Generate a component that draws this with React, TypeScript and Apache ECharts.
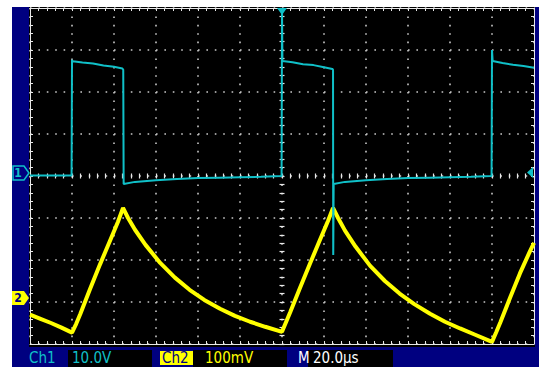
import React, { useEffect, useRef } from "react";
import * as echarts from "echarts";

// Ch1: time (µs, 0 = trigger at screen centre) and volts (10 V/div)
const ch1Time = [-120, -110, -100.2, -100, -99.6, -95, -90, -85, -80, -76, -75.6, -75.4, -70, -60, -50, -40, -30, -20, -10, -0.2, 0, 0.2, 5, 10, 15, 20, 24, 24.3, 24.4, 24.6, 30, 40, 50, 60, 70, 80, 90, 99.8, 100, 100.3, 105, 110, 115, 120];
const ch1Volt = [0.1, 0.1, 0.1, 27.6, 27.3, 27.0, 26.8, 26.3, 26.0, 25.6, 25.3, -1.9, -1.4, -1.0, -0.7, -0.5, -0.4, -0.3, -0.2, 0.0, 40, 27.4, 27.1, 26.6, 26.4, 25.9, 25.5, 25.3, -18.8, -1.9, -1.4, -1.0, -0.7, -0.5, -0.4, -0.3, -0.2, 0.0, 30.0, 27.4, 26.9, 26.5, 26.2, 25.8];

// Ch2: time (µs) and millivolts (100 mV/div)
const ch2Time = [-120, -115, -110, -105, -100, -98, -96, -91.4, -86.7, -81.9, -78.1, -75.7, -73.3, -70, -65, -58, -51, -44, -37, -29.5, -22.4, -15.2, -8, 0, 2, 4, 8.6, 13.3, 18.1, 21.9, 24.3, 26.7, 30, 35, 42, 49, 56, 63, 70.5, 77.6, 84.8, 92, 100, 102, 104, 108.6, 113.3, 118, 120];
const ch2mV = [-40, -50, -60, -71, -83, -62, -38, 21, 79, 136, 181, 214, 190, 162, 126, 83, 48, 19, -5, -26, -43, -57, -69, -81, -57, -33, 24, 81, 138, 183, 214, 190, 160, 122, 76, 40, 10, -15, -38, -57, -73, -88, -105, -82, -58, 0, 58, 110, 131];

// Screen settings
const timeRange = [-120, 120];
const timePerDiv = 20;
const ch1Range = [-40, 40];
const ch1PerDiv = 10;
const ch2Range = [-110, 690];

// Status bar texts
const ch1Label = "Ch1";
const ch1Scale = "10.0V";
const ch2Label = "Ch2";
const ch2Scale = "100mV";
const timeLabel = "M";
const timeScale = "20.0µs";

const CYAN = "#10c0c8";
const YELLOW = "#ffff00";
const NAVY = "#000080";
const FRAME = "#e8e8e8";
const DOT = "#c8c8c8";
const FONT = "'DejaVu Sans Condensed', 'Liberation Sans Narrow', 'DejaVu Sans', sans-serif";

function frameAxis(extra: any) {
  return {
    type: "value",
    axisLine: { show: true, onZero: false, lineStyle: { color: FRAME, width: 1 } },
    axisTick: { show: true, inside: true, length: 3, lineStyle: { color: FRAME } },
    minorTick: { show: true, splitNumber: 5, length: 3, lineStyle: { color: FRAME } },
    axisLabel: { show: false },
    splitLine: { show: false },
    ...extra,
  };
}

export default function App() {
  const ref = useRef<HTMLDivElement>(null);
  useEffect(() => {
    document.body.style.margin = "0";
    const chart = echarts.init(ref.current!, null, { renderer: "svg" });
    const ch1Data = ch1Time.map((t, i) => [t, ch1Volt[i]]);
    const ch2Data = ch2Time.map((t, i) => [t, ch2mV[i]]);
    const dotted = { show: true, lineStyle: { color: DOT, width: 1.6, type: [1.6, 6.8] } };
    const centerTick = { show: true, inside: true, length: 5, lineStyle: { color: FRAME, width: 1.2 } };
    const centerMinor = { show: true, splitNumber: 5, length: 5, lineStyle: { color: FRAME, width: 1.2 } };
    const txt = (x: number, text: string, fill: string) => ({
      type: "text",
      x,
      y: 358,
      z: 20,
      style: { text, fill, font: `15px ${FONT}`, verticalAlign: "middle" },
    });
    const option: any = {
      animation: false,
      backgroundColor: "#ffffff",
      grid: { left: 30, top: 8, width: 504, height: 336, show: false },
      xAxis: [
        frameAxis({ min: timeRange[0], max: timeRange[1], interval: timePerDiv, position: "bottom", splitLine: dotted }),
        frameAxis({ min: timeRange[0], max: timeRange[1], interval: timePerDiv, position: "top" }),
        frameAxis({
          min: timeRange[0], max: timeRange[1], interval: timePerDiv, position: "bottom", offset: -165.5,
          axisLine: { show: false, onZero: false }, axisTick: centerTick, minorTick: centerMinor,
        }),
      ],
      yAxis: [
        frameAxis({ min: ch1Range[0], max: ch1Range[1], interval: ch1PerDiv, position: "left", splitLine: dotted }),
        frameAxis({ min: ch1Range[0], max: ch1Range[1], interval: ch1PerDiv, position: "right" }),
        frameAxis({
          min: ch1Range[0], max: ch1Range[1], interval: ch1PerDiv, position: "left", offset: -249.5,
          axisLine: { show: false, onZero: false }, axisTick: centerTick, minorTick: centerMinor,
        }),
        { type: "value", min: ch2Range[0], max: ch2Range[1], show: false, axisLine: { onZero: false } },
      ],
      series: [
        {
          name: "Ch2", type: "line", xAxisIndex: 0, yAxisIndex: 3, data: ch2Data,
          showSymbol: false, symbol: "none", z: 3,
          lineStyle: { color: YELLOW, width: 4 },
        },
        {
          name: "Ch1", type: "line", xAxisIndex: 0, yAxisIndex: 0, data: ch1Data,
          showSymbol: false, symbol: "none", z: 4,
          lineStyle: { color: CYAN, width: 2 },
        },
      ],
      graphic: [
        { type: "rect", z: -10, silent: true, shape: { x: 12, y: 7, width: 527, height: 360 }, style: { fill: NAVY } },
        { type: "rect", z: -9, silent: true, shape: { x: 29, y: 7, width: 506, height: 340 }, style: { fill: "#000000" } },
        { type: "rect", z: 10, silent: true, shape: { x: 68, y: 350, width: 84, height: 17 }, style: { fill: "#000000" } },
        { type: "rect", z: 10, silent: true, shape: { x: 160, y: 351, width: 33, height: 14 }, style: { fill: YELLOW } },
        { type: "rect", z: 10, silent: true, shape: { x: 193, y: 350, width: 94, height: 17 }, style: { fill: "#000000" } },
        { type: "rect", z: 10, silent: true, shape: { x: 308, y: 350, width: 85, height: 17 }, style: { fill: "#000000" } },
        txt(29, ch1Label, CYAN),
        txt(72, ch1Scale, CYAN),
        txt(162, ch2Label, NAVY),
        txt(205, ch2Scale, YELLOW),
        txt(298, timeLabel, "#ffffff"),
        txt(313, timeScale, "#ffffff"),
        // channel ground markers
        { type: "polygon", z: 20, shape: { points: [[13, 166], [24, 166], [29, 173], [24, 180], [13, 180]] }, style: { fill: NAVY, stroke: CYAN, lineWidth: 1.5 } },
        { type: "text", z: 21, x: 18, y: 173, style: { text: "1", fill: CYAN, font: `bold 12px ${FONT}`, align: "center", verticalAlign: "middle" } },
        { type: "polygon", z: 20, shape: { points: [[12, 291], [24, 291], [29, 298], [24, 305], [12, 305]] }, style: { fill: YELLOW } },
        { type: "text", z: 21, x: 18, y: 298, style: { text: "2", fill: NAVY, font: `bold 12px ${FONT}`, align: "center", verticalAlign: "middle" } },
        // trigger position and level markers
        { type: "polygon", z: 20, shape: { points: [[277, 8], [287, 8], [282, 15]] }, style: { fill: CYAN } },
        { type: "polygon", z: 20, shape: { points: [[533, 167], [533, 178], [527, 172.5]] }, style: { fill: CYAN } },
      ],
    };
    chart.setOption(option);
    return () => chart.dispose();
  }, []);
  return <div ref={ref} style={{ width: 539, height: 367 }} />;
}
